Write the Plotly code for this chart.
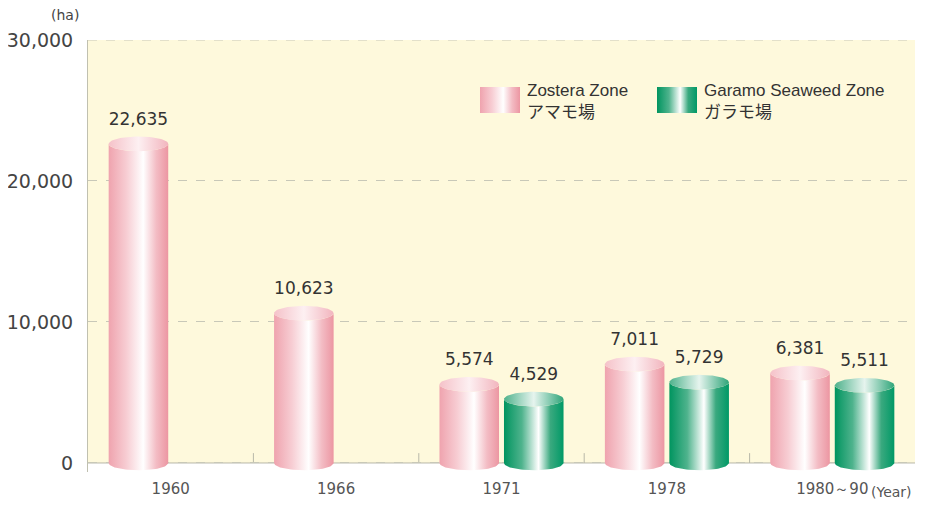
import numpy as np
import plotly.graph_objects as go

# survey years and seagrass / seaweed bed areas (ha)
categories = ["1960", "1966", "1971", "1978", "1980～90"]
zostera = [22635, 10623, 5574, 7011, 6381]
garamo = [None, None, 4529, 5729, 5511]
y_ticks = [0, 10000, 20000, 30000]

series = [
    dict(name="Zostera Zone", name_ja="アマモ場", values=zostera, offset=-0.195,
         body=[[0, "#efa3ae"], [0.3, "#f7cdd3"], [0.58, "#ffffff"], [0.8, "#f3bcc4"], [1, "#ec96a2"]],
         top=[[0, "#f5c2c9"], [0.5, "#fdf0f2"], [1, "#f2b5be"]],
         legend_x=480),
    dict(name="Garamo Seaweed Zone", name_ja="ガラモ場", values=garamo, offset=0.195,
         body=[[0, "#00945f"], [0.3, "#4fb38d"], [0.58, "#ffffff"], [0.78, "#3aa97f"], [1, "#009966"]],
         top=[[0, "#4fb28c"], [0.5, "#e6f4ee"], [1, "#2fa579"]],
         legend_x=657),
]

NUM_FONT = "DejaVu Sans, Liberation Sans, sans-serif"
half_w = 0.18   # half bar width in category units
b = 520         # vertical semi-axis of the ellipse, in data units
t = np.linspace(0, np.pi, 40)

fig = go.Figure()

for s in series:
    for i, v in enumerate(s["values"]):
        if v is None:
            continue
        xc = i + s["offset"]
        # body: bottom front arc, right side, top front arc back to left
        bx = xc - half_w * np.cos(t)
        by = -b * np.sin(t)
        tx = xc + half_w * np.cos(t)
        ty = v - b * np.sin(t)
        fig.add_trace(go.Scatter(
            x=np.concatenate([bx, tx, [bx[0]]]),
            y=np.concatenate([by, ty, [by[0]]]),
            mode="lines", line=dict(width=0), fill="toself",
            fillgradient=dict(type="horizontal", colorscale=s["body"]),
            name=s["name"], showlegend=False, hoverinfo="skip",
        ))
        # top ellipse
        tt = np.linspace(0, 2 * np.pi, 80)
        fig.add_trace(go.Scatter(
            x=xc + half_w * np.cos(tt), y=v + b * np.sin(tt),
            mode="lines", line=dict(width=0), fill="toself",
            fillgradient=dict(type="horizontal", colorscale=s["top"]),
            showlegend=False, hoverinfo="skip",
        ))
    # value labels
    xs = [i + s["offset"] for i, v in enumerate(s["values"]) if v is not None]
    vs = [v for v in s["values"] if v is not None]
    fig.add_trace(go.Scatter(
        x=xs, y=[v + 2 * b for v in vs], mode="text",
        text=[f"{v:,}" for v in vs], textposition="top center",
        textfont=dict(family=NUM_FONT, size=17, color="#333333"),
        showlegend=False, hoverinfo="skip",
    ))

    # hand-made legend: gradient swatch on a pixel-scaled overlay axis + text
    lx = s["legend_x"]
    fig.add_trace(go.Scatter(
        x=[lx, lx + 40, lx + 40, lx, lx], y=[87, 87, 113, 113, 87],
        xaxis="x2", yaxis="y2", mode="lines", line=dict(width=0), fill="toself",
        fillgradient=dict(type="horizontal", colorscale=s["body"]),
        showlegend=False, hoverinfo="skip",
    ))
    fig.add_annotation(text=f"{s['name']}<br>{s['name_ja']}", xref="x2", yref="y2",
                       x=lx + 45, y=101, xanchor="left", yanchor="middle", align="left",
                       showarrow=False,
                       font=dict(family="Liberation Sans, Noto Sans CJK JP, sans-serif",
                                 size=17, color="#333333"))

n = len(categories)
# yellow plot background between 0 and the top
fig.add_shape(type="rect", xref="paper", yref="y", x0=0, x1=1, y0=0, y1=max(y_ticks),
              fillcolor="#fef9dc", line=dict(width=0), layer="below")
# baseline, top grid line and category boundary ticks
fig.add_shape(type="line", xref="paper", yref="y", x0=0, x1=1, y0=0, y1=0,
              line=dict(color="#b8b8a8", width=1), layer="below")
fig.add_shape(type="line", xref="paper", yref="y", x0=0, x1=1, y0=max(y_ticks), y1=max(y_ticks),
              line=dict(color="#c8c8b8", width=1, dash="dash"), layer="below")
for k in range(1, n):
    fig.add_shape(type="line", xref="x", yref="y", x0=k - 0.5, x1=k - 0.5, y0=0, y1=700,
                  line=dict(color="#b8b8a8", width=1), layer="below")

fig.add_annotation(text="(ha)", xref="paper", yref="paper", x=-0.028, y=1.035,
                   xanchor="center", yanchor="bottom", showarrow=False,
                   font=dict(family=NUM_FONT, size=14, color="#444444"))
fig.add_annotation(text="(Year)", xref="x", yref="paper", x=4.22, y=0,
                   xanchor="left", yanchor="top", yshift=-10, showarrow=False,
                   font=dict(family=NUM_FONT, size=14, color="#555555"))

# the page body adds an 8px offset, so the figure is sized and margined to compensate
fig.update_layout(
    width=923, height=497,
    margin=dict(l=80, r=16, t=32, b=33),
    paper_bgcolor="white", plot_bgcolor="white",
    font=dict(family="Liberation Sans, Noto Sans CJK JP, sans-serif", color="#333333"),
    xaxis=dict(range=[-0.5, n - 0.5], tickvals=list(range(n)), ticktext=categories,
               showgrid=False, zeroline=False, showline=False, ticks="", automargin=False,
               tickfont=dict(family=NUM_FONT, size=15, color="#555555"), ticklabelstandoff=6),
    yaxis=dict(range=[-640, 30000], tickvals=y_ticks, tickformat=",", automargin=False,
               showgrid=True, gridcolor="#c8c8b8", griddash="dash", zeroline=False,
               showline=True, linecolor="#c0c0b0", ticks="", ticklabelstandoff=10,
               tickfont=dict(family=NUM_FONT, size=19, color="#444444")),
    xaxis2=dict(overlaying="x", range=[88, 915], visible=False, fixedrange=True),
    yaxis2=dict(overlaying="y", range=[472, 40], visible=False, fixedrange=True),
    showlegend=False,
)

fig.write_html("out.html")
